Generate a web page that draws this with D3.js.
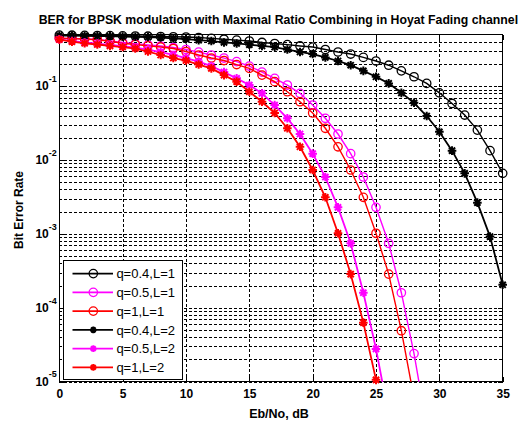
<!DOCTYPE html>
<html>
<head>
<meta charset="utf-8">
<script src="https://cdn.jsdelivr.net/npm/d3@7"></script>
<style>
  body { margin: 0; background: #fff; }
  svg { display: block; font-family: "Liberation Sans", Arial, sans-serif; }
</style>
</head>
<body>
<svg id="chart" width="529" height="423"></svg>
<script>
// BER vs Eb/No, Hoyt (Nakagami-q) fading, MRC with L branches
const ebNo = [0,1,2,3,4,5,6,7,8,9,10,11,12,13,14,15,16,17,18,19,20,21,22,23,24,25,26,27,28,29,30,31,32,33,34,35];

const berQ04L1 = [0.49,0.489,0.487,0.485,0.483,0.48,0.477,0.474,0.47,0.466,0.462,0.455,0.443,0.432,0.419,0.408,
  0.39,0.378,0.365,0.35,0.338,0.313,0.29,0.272,0.245,0.219,0.192,0.161,0.134,0.109,0.0812,0.0583,0.0406,0.0254,0.0134,0.0066];
const berQ05L1 = [0.445,0.44,0.435,0.43,0.408,0.39,0.376,0.362,0.349,0.333,0.313,0.289,0.264,0.24,0.215,0.187,
  0.155,0.1275,0.1035,0.0799,0.0555,0.0367,0.0225,0.0122,0.00589,0.00229,0.000746,0.00016,2.4e-5,2.5e-6,
  null,null,null,null,null,null];
const berQ1L1 = [0.445,0.44,0.434,0.425,0.405,0.38,0.366,0.351,0.338,0.323,0.294,0.264,0.24,0.222,0.196,0.174,
  0.141,0.115,0.084,0.0615,0.0433,0.0269,0.0151,0.00733,0.00313,0.00102,0.000286,4.9e-5,6e-6,
  null,null,null,null,null,null,null];
const berQ04L2 = [0.485,0.483,0.48,0.477,0.474,0.47,0.466,0.462,0.455,0.443,0.432,0.419,0.408,0.39,0.378,0.365,
  0.35,0.338,0.313,0.29,0.272,0.245,0.219,0.192,0.161,0.134,0.109,0.0812,0.0595,0.0394,0.0241,0.0134,0.0066,0.00265,0.00092,0.000205];
const berQ05L2 = [0.43,0.408,0.39,0.376,0.362,0.349,0.333,0.313,0.289,0.264,0.24,0.215,0.187,0.155,0.1275,0.1035,
  0.0799,0.0555,0.0367,0.0225,0.0122,0.00589,0.00229,0.000746,0.00016,2.78e-5,3.5e-6,
  null,null,null,null,null,null,null,null,null];
const berQ1L2 = [0.427,0.401,0.38,0.366,0.351,0.338,0.323,0.294,0.264,0.24,0.222,0.196,0.174,0.141,0.115,0.084,
  0.0615,0.0433,0.0269,0.0151,0.00733,0.00313,0.00102,0.000286,6.3e-5,1.06e-5,1.4e-6,
  null,null,null,null,null,null,null,null,null];

const seriesNames = ["q=0.4,L=1", "q=0.5,L=1", "q=1,L=1", "q=0.4,L=2", "q=0.5,L=2", "q=1,L=2"];
const seriesValues = [berQ04L1, berQ05L1, berQ1L1, berQ04L2, berQ05L2, berQ1L2];
const seriesColors = ["#000000", "#ff00ff", "#ff0000", "#000000", "#ff00ff", "#ff0000"];
const seriesMarkers = ["circle", "circle", "circle", "star", "star", "star"];

const xTicks = [0, 5, 10, 15, 20, 25, 30, 35];
const yMajor = [1e-5, 1e-4, 1e-3, 1e-2, 1e-1];
const yMajorExp = ["-5", "-4", "-3", "-2", "-1"];

const drawChart = () => {
  const svg = d3.select("#chart");
  svg.selectAll("*").remove();

  const left = 59.3, right = 502.7, top = 34.5, bottom = 381.7;
  const w = right - left, h = bottom - top;

  const x = d3.scaleLinear().domain([0, 35]).range([left, right]);
  const y = d3.scaleLog().domain([1e-5, 0.5]).range([bottom, top]);

  // minor log positions 2..9 x 10^k inside the domain
  const yMinor = [];
  yMajor.forEach(m => { for (let k = 2; k <= 9; k++) { const v = m * k; if (v < 0.5) yMinor.push(v); } });

  svg.append("rect").attr("width", 529).attr("height", 423).attr("fill", "#fff");

  // grid
  const grid = svg.append("g").attr("class", "grid");
  grid.append("g")
    .attr("transform", `translate(0,${bottom})`)
    .call(d3.axisBottom(x).tickValues(xTicks.filter(t => t > 0 && t < 35)).tickSize(-h).tickFormat(""));
  grid.append("g")
    .attr("transform", `translate(${left},0)`)
    .call(d3.axisLeft(y).tickValues(yMajor.concat(yMinor)).tickSize(-w).tickFormat(""));
  grid.selectAll(".domain").remove();
  grid.selectAll("line")
    .attr("stroke", "#000").attr("stroke-width", 1)
    .attr("stroke-dasharray", "3,2").attr("shape-rendering", "crispEdges");

  // ticks (inward)
  const ticks = svg.append("g").attr("class", "ticks");
  const xb = ticks.append("g").attr("transform", `translate(0,${bottom})`)
    .call(d3.axisBottom(x).tickValues(xTicks).tickSizeInner(-5).tickSizeOuter(0).tickPadding(8));
  xb.selectAll("text")
    .attr("font-size", 12).attr("font-weight", "bold").attr("fill", "#000")
    .attr("font-family", "'Liberation Sans', Arial, sans-serif");
  ticks.append("g").attr("transform", `translate(0,${top})`)
    .call(d3.axisTop(x).tickValues(xTicks).tickSizeInner(-5).tickSizeOuter(0).tickFormat(""));
  ticks.append("g").attr("transform", `translate(${left},0)`)
    .call(d3.axisLeft(y).tickValues(yMajor).tickSizeInner(-5).tickSizeOuter(0).tickFormat(""));
  ticks.append("g").attr("transform", `translate(${left},0)`)
    .call(d3.axisLeft(y).tickValues(yMinor).tickSizeInner(-3).tickSizeOuter(0).tickFormat(""));
  ticks.append("g").attr("transform", `translate(${right},0)`)
    .call(d3.axisRight(y).tickValues(yMajor).tickSizeInner(-5).tickSizeOuter(0).tickFormat(""));
  ticks.append("g").attr("transform", `translate(${right},0)`)
    .call(d3.axisRight(y).tickValues(yMinor).tickSizeInner(-3).tickSizeOuter(0).tickFormat(""));
  ticks.selectAll(".domain").remove();
  ticks.selectAll("line").attr("stroke", "#000").attr("shape-rendering", "crispEdges");

  // y tick labels 10^k
  const yl = svg.append("g").attr("font-weight", "bold").attr("fill", "#000");
  yMajor.forEach((v, i) => {
    const t = yl.append("text")
      .attr("x", left - 2.5).attr("y", y(v) + 4.3)
      .attr("text-anchor", "end").attr("font-size", 12);
    t.append("tspan").text("10");
    t.append("tspan").attr("font-size", 9).attr("dy", -8.6).text(yMajorExp[i]);
  });

  // box
  svg.append("rect")
    .attr("x", left).attr("y", top).attr("width", w).attr("height", h)
    .attr("fill", "none").attr("stroke", "#000").attr("stroke-width", 1)
    .attr("shape-rendering", "crispEdges");

  // curves
  svg.append("clipPath").attr("id", "plotClip")
    .append("rect").attr("x", left).attr("y", top).attr("width", w).attr("height", h);

  const line = d3.line()
    .defined(d => d[1] != null)
    .x(d => x(d[0]))
    .y(d => y(d[1]));

  const starPath = s => `M${-s},0L${s},0M0,${-s}L0,${s}M${-s * 0.72},${-s * 0.72}L${s * 0.72},${s * 0.72}M${-s * 0.72},${s * 0.72}L${s * 0.72},${-s * 0.72}`;

  const drawMarker = (g, type, color, cx, cy, s) => {
    if (type === "circle") {
      g.append("circle").attr("cx", cx).attr("cy", cy).attr("r", 4.2)
        .attr("fill", "none").attr("stroke", color).attr("stroke-width", 1.3);
    } else {
      g.append("path").attr("transform", `translate(${cx},${cy})`).attr("d", starPath(s || 4.3))
        .attr("fill", "none").attr("stroke", color).attr("stroke-width", 2);
    }
  };

  seriesValues.forEach((vals, i) => {
    const pts = ebNo.map((e, j) => [e, vals[j]]);
    const g = svg.append("g");
    g.append("path")
      .datum(pts)
      .attr("clip-path", "url(#plotClip)")
      .attr("d", line)
      .attr("fill", "none")
      .attr("stroke", seriesColors[i])
      .attr("stroke-width", seriesMarkers[i] === "circle" ? 1.4 : 1.8);
    pts.filter(p => p[1] != null && p[1] >= 1e-5 && p[1] <= 0.5)
      .forEach(p => drawMarker(g, seriesMarkers[i], seriesColors[i], x(p[0]), y(p[1])));
  });

  // legend
  const lg = svg.append("g");
  lg.append("rect")
    .attr("x", 63.4).attr("y", 260.1).attr("width", 118.8).attr("height", 119)
    .attr("fill", "#fff").attr("stroke", "#000").attr("stroke-width", 1)
    .attr("shape-rendering", "crispEdges");
  seriesNames.forEach((name, i) => {
    const ry = 273.6 + i * 18.76;
    lg.append("line")
      .attr("x1", 72.5).attr("x2", 113).attr("y1", ry).attr("y2", ry)
      .attr("stroke", seriesColors[i]).attr("stroke-width", 1.8);
    drawMarker(lg, seriesMarkers[i], seriesColors[i], 93.3, ry, 3.3);
    lg.append("text")
      .attr("x", 116.4).attr("y", ry + 4.7)
      .attr("font-size", 13).attr("fill", "#000")
      .text(name);
  });

  // title: condensed bold, squeezed horizontally to the reference width
  const title = svg.append("text")
    .attr("x", 0).attr("y", 0)
    .attr("text-anchor", "middle")
    .attr("font-size", 13.5).attr("font-weight", "bold")
    .text("BER for BPSK modulation with Maximal Ratio Combining in Hoyat Fading channel");
  const natural = title.node().getComputedTextLength() || 540;
  const sx = Math.min(1, 480 / natural);
  title.attr("transform", `translate(278.4,23.5) scale(${sx},1)`);

  svg.append("text")
    .attr("x", 279).attr("y", 417.5)
    .attr("text-anchor", "middle")
    .attr("font-size", 12.5).attr("font-weight", "bold")
    .text("Eb/No, dB");

  svg.append("text")
    .attr("transform", "translate(22.6,210) rotate(-90)")
    .attr("text-anchor", "middle")
    .attr("font-size", 12).attr("font-weight", "bold")
    .text("Bit Error Rate");
};

drawChart();
</script>
</body>
</html>
